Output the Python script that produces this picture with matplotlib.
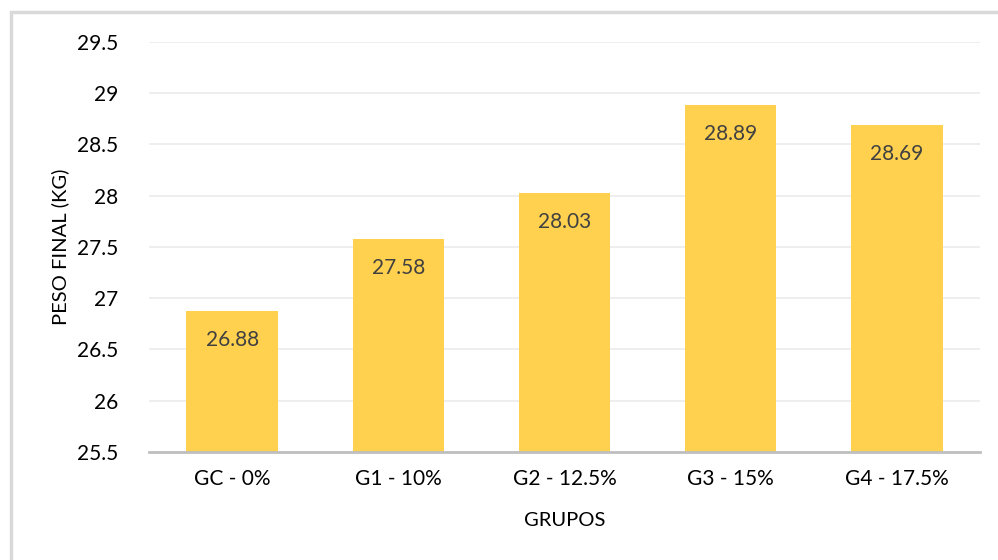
import matplotlib.pyplot as plt
from matplotlib.patches import Rectangle

grupos = ['GC - 0%', 'G1 - 10%', 'G2 - 12.5%', 'G3 - 15%', 'G4 - 17.5%']
peso_final = [26.88, 27.58, 28.03, 28.89, 28.69]
y_ticks = [25.5, 26, 26.5, 27, 27.5, 28, 28.5, 29, 29.5]

plt.rcParams['font.family'] = ['Lato', 'DejaVu Sans']

fig = plt.figure(figsize=(9.98, 5.6), dpi=100)
ax = fig.add_axes([0.1493, 0.1929, 0.8327, 0.7321])

# outer chart frame
fig.patches.append(Rectangle((11 / 998, -0.05), 1.2, (560 - 12) / 560 + 0.05,
                             transform=fig.transFigure, fill=False,
                             edgecolor='#D9D9D9', linewidth=2.5))

x = range(len(grupos))
bars = ax.bar(x, peso_final, width=0.55, color='#FFD14F', zorder=2)

for b, v in zip(bars, peso_final):
    ax.annotate(f'{v:.2f}', (b.get_x() + b.get_width() / 2, v),
                xytext=(0, -29), textcoords='offset pixels',
                ha='center', va='center', fontsize=15, color='#404040')

ax.set_ylim(25.5, 29.5)
ax.set_xlim(-0.5, len(grupos) - 0.5)
ax.set_yticks(y_ticks)
ax.set_yticklabels([f'{t:g}' for t in y_ticks])
ax.set_xticks(list(x))
ax.set_xticklabels(grupos)

ax.grid(axis='y', color='#EBEBEB', linewidth=1.2, zorder=0)
ax.set_axisbelow(True)
for s in ['top', 'right', 'left']:
    ax.spines[s].set_visible(False)
ax.spines['bottom'].set_color('#BFBFBF')
ax.spines['bottom'].set_linewidth(2)
ax.spines['bottom'].set_zorder(3)

ax.tick_params(axis='both', length=0, labelsize=15, colors='#000000')
ax.tick_params(axis='y', pad=22)
ax.tick_params(axis='x', pad=12)

ax.set_xlabel('GRUPOS', fontsize=14.5, labelpad=17)
ax.set_ylabel('PESO FINAL (KG)', fontsize=14.5, labelpad=6)

fig.savefig('out.png', dpi=100)
